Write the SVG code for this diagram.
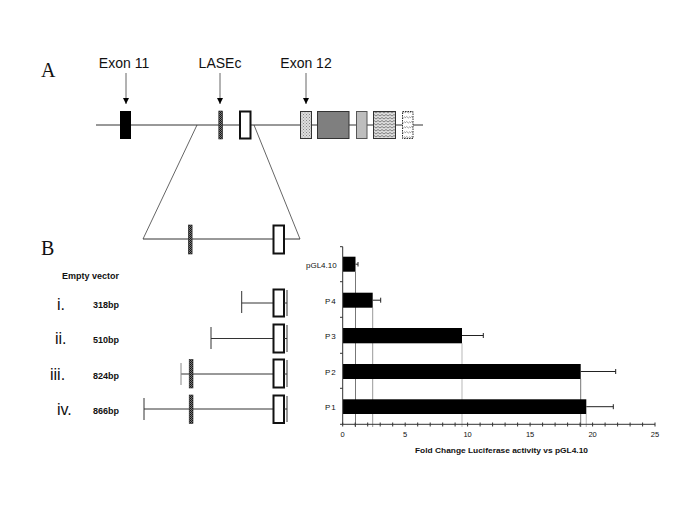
<svg xmlns="http://www.w3.org/2000/svg" width="685" height="513" viewBox="0 0 685 513">
<style>
  .lbl { font-family: "Liberation Sans", Arial, sans-serif; fill: #111; }
  .serif { font-family: "Liberation Serif", "Times New Roman", serif; fill: #111; }
  .bold { font-family: "Liberation Sans", Arial, sans-serif; font-weight: bold; fill: #111; }
  .ln { stroke: #333; stroke-width: 1; fill: none; }
  .gl { stroke: #666; stroke-width: 1; fill: none; }
  .wbox { fill: #fff; stroke: #111; stroke-width: 2; }
  .bar { fill: #000; }
  .err { stroke: #222; stroke-width: 1; fill: none; }
  .ax { stroke: #333; stroke-width: 1; fill: none; }
</style>
<defs>
  <marker id="ah" viewBox="0 0 10 10" refX="10" refY="5" markerWidth="6" markerHeight="6" orient="auto" markerUnits="userSpaceOnUse">
    <path d="M0,0 L10,5 L0,10 z" fill="#000"/>
  </marker>
  <pattern id="hatch" width="2" height="2" patternUnits="userSpaceOnUse">
    <rect width="2" height="2" fill="#777"/>
    <rect width="1" height="1" fill="#111"/>
    <rect x="1" y="1" width="1" height="1" fill="#222"/>
  </pattern>
  <pattern id="dots" width="3" height="3" patternUnits="userSpaceOnUse">
    <rect width="3" height="3" fill="#ddd"/>
    <rect width="1" height="1" fill="#888"/>
    <rect x="1.5" y="1.5" width="1" height="1" fill="#999"/>
  </pattern>
  <pattern id="zig" width="4" height="3" patternUnits="userSpaceOnUse">
    <rect width="4" height="3" fill="#ddd"/>
    <path d="M0,2 L2,0.5 L4,2" stroke="#666" stroke-width="0.8" fill="none"/>
  </pattern>
  <pattern id="zig2" width="5" height="5" patternUnits="userSpaceOnUse">
    <rect width="5" height="5" fill="#fff"/>
    <path d="M0,3 L1.7,1.5 L3.3,3 L5,1.5" stroke="#777" stroke-width="0.7" fill="none"/>
  </pattern>
</defs>

<!-- Panel A -->
<text class="serif" x="41" y="77" font-size="20">A</text>

<g id="connectors">
  <line class="gl" x1="126" y1="73" x2="126" y2="104" marker-end="url(#ah)"/>
  <line class="gl" x1="220" y1="73" x2="220" y2="104" marker-end="url(#ah)"/>
  <line class="gl" x1="306" y1="73" x2="306" y2="104" marker-end="url(#ah)"/>
  <line class="gl" x1="197" y1="125" x2="143" y2="239"/>
  <line class="gl" x1="254" y1="125" x2="300" y2="239"/>
</g>

<g id="label-exon11"><text class="lbl" x="124" y="68" font-size="14" text-anchor="middle">Exon 11</text></g>
<g id="label-lasec"><text class="lbl" x="220" y="68" font-size="14" text-anchor="middle">LASEc</text></g>
<g id="label-exon12"><text class="lbl" x="306" y="68" font-size="14" text-anchor="middle">Exon 12</text></g>

<g id="gene-A">
  <line class="ln" x1="96" y1="125" x2="423" y2="125"/>
  <rect x="120" y="111" width="11" height="28" fill="#000"/>
  <rect x="218.8" y="111" width="3.8" height="28" fill="url(#hatch)" stroke="#222" stroke-width="0.6"/>
  <rect x="240" y="111.5" width="10.5" height="27" class="wbox"/>
  <rect x="300.5" y="111.5" width="11" height="27" fill="url(#dots)" stroke="#333" stroke-width="1"/>
  <rect x="317.5" y="111.5" width="31.5" height="27" fill="#7f7f7f" stroke="#333" stroke-width="1"/>
  <rect x="356.5" y="111.5" width="10.5" height="27" fill="#bdbdbd" stroke="#555" stroke-width="1"/>
  <rect x="373.5" y="111.5" width="22" height="27" fill="url(#zig)" stroke="#333" stroke-width="1"/>
  <rect x="402.5" y="111.5" width="10.5" height="27" fill="url(#zig2)" stroke="#333" stroke-width="1" stroke-dasharray="1.5,1"/>
</g>

<g id="zoom-region">
  <line class="ln" x1="143" y1="239" x2="300" y2="239"/>
  <rect x="188.3" y="225" width="3.8" height="29" fill="url(#hatch)" stroke="#222" stroke-width="0.6"/>
  <rect x="273.5" y="225.5" width="10.5" height="28" class="wbox"/>
</g>

<!-- Panel B -->
<text class="serif" x="41" y="255" font-size="20">B</text>
<text class="bold" x="62" y="279" font-size="9">Empty vector</text>

<g id="construct-i">
  <text class="lbl" x="57" y="310" font-size="16">i.</text>
  <text class="bold" x="93" y="308" font-size="9">318bp</text>
  <line class="ln" x1="241.7" y1="303" x2="273" y2="303"/>
  <line class="ln" x1="241.7" y1="291" x2="241.7" y2="313"/>
  <rect x="273.5" y="289.5" width="10.5" height="27" class="wbox"/>
  <line class="ln" x1="287" y1="290" x2="287" y2="316"/>
  <line class="ln" x1="284" y1="303" x2="287" y2="303"/>
</g>

<g id="construct-ii">
  <text class="lbl" x="55" y="344" font-size="16">ii.</text>
  <text class="bold" x="93" y="343" font-size="9">510bp</text>
  <line class="ln" x1="211" y1="338.5" x2="273" y2="338.5"/>
  <line class="ln" x1="211" y1="327" x2="211" y2="349"/>
  <rect x="273.5" y="324.5" width="10.5" height="28" class="wbox"/>
  <line class="ln" x1="287" y1="325" x2="287" y2="352"/>
  <line class="ln" x1="284" y1="338.5" x2="287" y2="338.5"/>
</g>

<g id="construct-iii">
  <text class="lbl" x="50" y="380" font-size="16">iii.</text>
  <text class="bold" x="93" y="379" font-size="9">824bp</text>
  <line class="ln" x1="181" y1="374" x2="273" y2="374"/>
  <line x1="181" y1="363" x2="181" y2="385" stroke="#888" stroke-width="1"/>
  <rect x="189.2" y="359.5" width="3.8" height="28.5" fill="url(#hatch)" stroke="#222" stroke-width="0.6"/>
  <rect x="273.5" y="359.5" width="10.5" height="28" class="wbox"/>
  <line class="ln" x1="287" y1="360" x2="287" y2="387"/>
  <line class="ln" x1="284" y1="374" x2="287" y2="374"/>
</g>

<g id="construct-iv">
  <text class="lbl" x="57" y="415" font-size="16">iv.</text>
  <text class="bold" x="93" y="414" font-size="9">866bp</text>
  <line class="ln" x1="144" y1="409" x2="273" y2="409"/>
  <line class="ln" x1="144" y1="398" x2="144" y2="420"/>
  <rect x="189.2" y="395" width="3.8" height="28.5" fill="url(#hatch)" stroke="#222" stroke-width="0.6"/>
  <rect x="273.5" y="395.5" width="10.5" height="27.5" class="wbox"/>
  <line class="ln" x1="287" y1="396" x2="287" y2="422"/>
  <line class="ln" x1="284" y1="409" x2="287" y2="409"/>
</g>

<!-- Chart -->
<g id="chart">
  <!-- drop lines -->
  <line x1="355.5" y1="271.7" x2="355.5" y2="427" stroke="#777" stroke-width="1"/>
  <line x1="372.7" y1="307.7" x2="372.7" y2="427" stroke="#999" stroke-width="1"/>
  <line x1="462" y1="343.3" x2="462" y2="427" stroke="#c4c4c4" stroke-width="1.2"/>
  <line x1="580.7" y1="379" x2="580.7" y2="427" stroke="#777" stroke-width="1"/>
  <line x1="586.3" y1="414" x2="586.3" y2="427" stroke="#c4c4c4" stroke-width="1.2"/>

  <!-- bars -->
  <rect class="bar" x="343" y="256.7" width="12.5" height="15"/>
  <rect class="bar" x="343" y="292.7" width="29.7" height="15"/>
  <rect class="bar" x="343" y="328" width="119" height="15.3"/>
  <rect class="bar" x="343" y="364" width="237.7" height="15"/>
  <rect class="bar" x="343" y="399.3" width="243.3" height="14.7"/>

  <!-- error bars -->
  <path class="err" d="M355.5,264.2 H358 M358,262 V266.5"/>
  <path class="err" d="M372.7,300.2 H380.7 M380.7,297.7 V302.7"/>
  <path class="err" d="M462,335.5 H483.3 M483.3,333 V338"/>
  <path class="err" d="M580.7,371.5 H615.7 M615.7,369 V374"/>
  <path class="err" d="M586.3,406.7 H613.3 M613.3,404.2 V409.2"/>

  <!-- axes -->
  <line class="ax" x1="342.7" y1="246.7" x2="342.7" y2="424.3"/>
  <line class="ax" x1="342.7" y1="424.3" x2="655" y2="424.3"/>
  <path class="ax" d="M340,246.7 H342.7 M340,281.7 H342.7 M340,317.3 H342.7 M340,353.3 H342.7 M340,388.3 H342.7 M340,424.3 H342.7"/>
  <path class="ax" d="M342.7,422.5 V426.5 M355.2,422.5 V426.5 M367.7,422.5 V426.5 M380.2,422.5 V426.5 M392.7,422.5 V426.5 M405.2,422.5 V426.5 M417.7,422.5 V426.5 M430.2,422.5 V426.5 M442.7,422.5 V426.5 M455.1,422.5 V426.5 M467.6,422.5 V426.5 M480.1,422.5 V426.5 M492.6,422.5 V426.5 M505.1,422.5 V426.5 M517.6,422.5 V426.5 M530.1,422.5 V426.5 M542.6,422.5 V426.5 M555.1,422.5 V426.5 M567.6,422.5 V426.5 M580.1,422.5 V426.5 M592.6,422.5 V426.5 M605.1,422.5 V426.5 M617.6,422.5 V426.5 M630.1,422.5 V426.5 M642.6,422.5 V426.5 M655,422.5 V426.5"/>

  <!-- tick labels -->
  <g class="lbl" font-size="7.5" text-anchor="middle">
    <text x="342.7" y="437">0</text>
    <text x="405.2" y="437">5</text>
    <text x="467.6" y="437">10</text>
    <text x="530.1" y="437">15</text>
    <text x="592.6" y="437">20</text>
    <text x="655" y="437">25</text>
  </g>
  <g class="lbl" font-size="8" text-anchor="end">
    <text x="336.7" y="267.5">pGL4.10</text>
    <text x="336.7" y="303.5" letter-spacing="1">P4</text>
    <text x="336.7" y="338.8" letter-spacing="1">P3</text>
    <text x="336.7" y="374.8" letter-spacing="1">P2</text>
    <text x="336.7" y="410" letter-spacing="1">P1</text>
  </g>
  <text class="bold" x="501.5" y="453" font-size="7.5" text-anchor="middle" textLength="173" lengthAdjust="spacingAndGlyphs">Fold Change Luciferase activity vs pGL4.10</text>
</g>
</svg>
